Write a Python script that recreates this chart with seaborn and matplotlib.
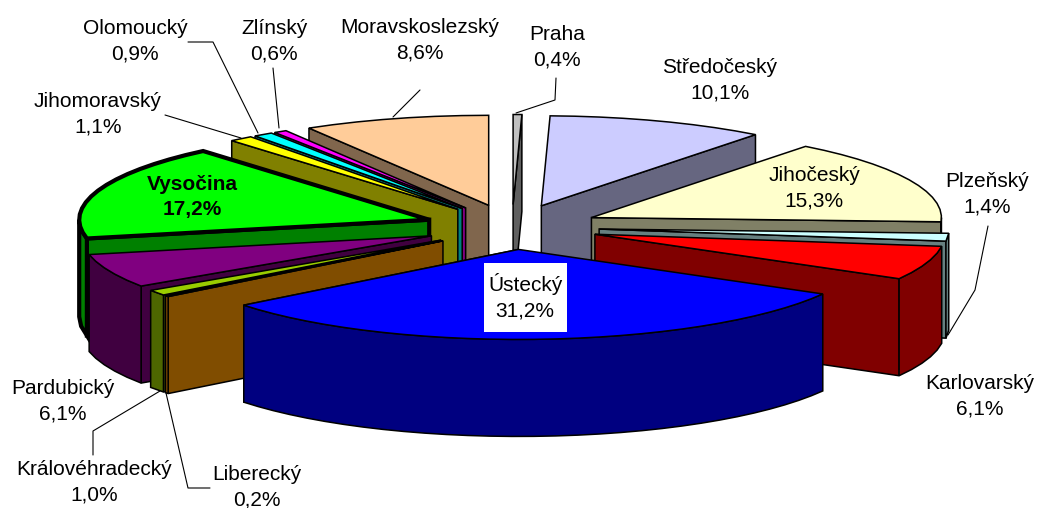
import numpy as np
import pandas as pd
import matplotlib
matplotlib.use("Agg")
import matplotlib.pyplot as plt
from matplotlib.patches import Rectangle
import seaborn as sns

regions = ["Praha", "Středočeský", "Jihočeský", "Plzeňský", "Karlovarský", "Ústecký", "Liberecký",
           "Královéhradecký", "Pardubický", "Vysočina", "Jihomoravský", "Olomoucký", "Zlínský",
           "Moravskoslezský"]
shares = [0.4, 10.1, 15.3, 1.4, 6.1, 31.2, 0.2, 1.0, 6.1, 17.2, 1.1, 0.9, 0.6, 8.6]
top_colors = ["#C0C0C0", "#CCCCFF", "#FFFFCC", "#CCFFFF", "#FF0000", "#0000FF", "#FF9900",
              "#99CC00", "#800080", "#00FF00", "#FFFF00", "#00FFFF", "#FF00FF", "#FFCC99"]

# label centres in pixels
label_x = [557, 720, 814, 987, 980, 525, 257, 94, 63, 192, 98, 135, 274, 420]
label_y = [47, 80, 188, 194, 396, 297, 487, 482, 401, 197, 114, 41, 41, 40]

leaders = [
    [(188, 42), (213, 42), (258, 133)],
    [(273, 68), (279, 128)],
    [(420, 90), (393, 117)],
    [(165, 115), (241, 138)],
    [(556, 78), (555, 100), (516, 113)],
    [(988, 226), (975, 290), (948, 335)],
    [(93, 455), (93, 431), (160, 391)],
    [(210, 488), (188, 488), (166, 393)],
]

CX, CY = 512, 227
RX, RY = 350, 90
EXPLODE = 0.25
WALL = 97

sns.set_theme(style="white")
plt.rcParams["font.family"] = ["Liberation Sans", "DejaVu Sans"]

df = pd.DataFrame({"region": regions, "share": shares, "color": top_colors})
ends = np.cumsum(df["share"]) / df["share"].sum() * 2 * np.pi
df["start"] = ends - df["share"] / df["share"].sum() * 2 * np.pi
df["end"] = ends
df["mid"] = (df["start"] + df["end"]) / 2


def project(u, v):
    return CX + RX * np.asarray(u), CY - RY * np.asarray(v)


def draw_slice(ax, row):
    lw = 3.0 if row["region"] == "Vysočina" else 1.1
    top = row["color"]
    side = tuple(c / 2 for c in matplotlib.colors.to_rgb(top))
    a0, a1, mid = row["start"], row["end"], row["mid"]
    ou, ov = EXPLODE * np.sin(mid), EXPLODE * np.cos(mid)
    ax_, ay_ = project(ou, ov)

    def poly(xs, ys, color):
        ax.fill(xs, ys, facecolor=color, edgecolor="black", lw=lw, joinstyle="miter")

    # cut face turned towards the viewer
    a = a0 if np.sin(mid) < 0 else a1
    ex, ey = project(ou + np.sin(a), ov + np.cos(a))
    poly([ax_, ex, ex, ax_], [ay_, ey, ey + WALL, ay_ + WALL], side)

    # outer rim, front half only
    lo, hi = max(a0, np.pi / 2), min(a1, 3 * np.pi / 2)
    if hi > lo:
        t = np.linspace(lo, hi, max(int((hi - lo) / 0.06), 2))
        rx, ry = project(ou + np.sin(t), ov + np.cos(t))
        poly(np.r_[rx, rx[::-1]], np.r_[ry, ry[::-1] + WALL], side)

    t = np.linspace(a0, a1, max(int((a1 - a0) / 0.06), 2))
    tx, ty = project(ou + np.sin(t), ov + np.cos(t))
    poly(np.r_[ax_, tx], np.r_[ay_, ty], top)


fig, ax = plt.subplots(figsize=(10.37, 5.08), dpi=100)
fig.subplots_adjust(0, 0, 1, 1)
ax.set_xlim(0, 1037)
ax.set_ylim(508, 0)
ax.axis("off")

for _, row in df.assign(depth=np.cos(df["mid"])).sort_values("depth", ascending=False).iterrows():
    draw_slice(ax, row)

for line in leaders:
    xs, ys = zip(*line)
    ax.plot(xs, ys, color="black", lw=0.8)

ax.add_patch(Rectangle((484, 263), 83, 69, facecolor="white", edgecolor="none", zorder=2.5))

for name, val, x, y in zip(regions, shares, label_x, label_y):
    txt = f"{name}\n{val:.1f}%".replace(".", ",")
    bold = name == "Vysočina"
    ax.text(x, y, txt, ha="center", va="center", fontsize=15, linespacing=1.42,
            color="black", fontweight="bold" if bold else "normal", zorder=3)

fig.savefig("out.png", dpi=100)
